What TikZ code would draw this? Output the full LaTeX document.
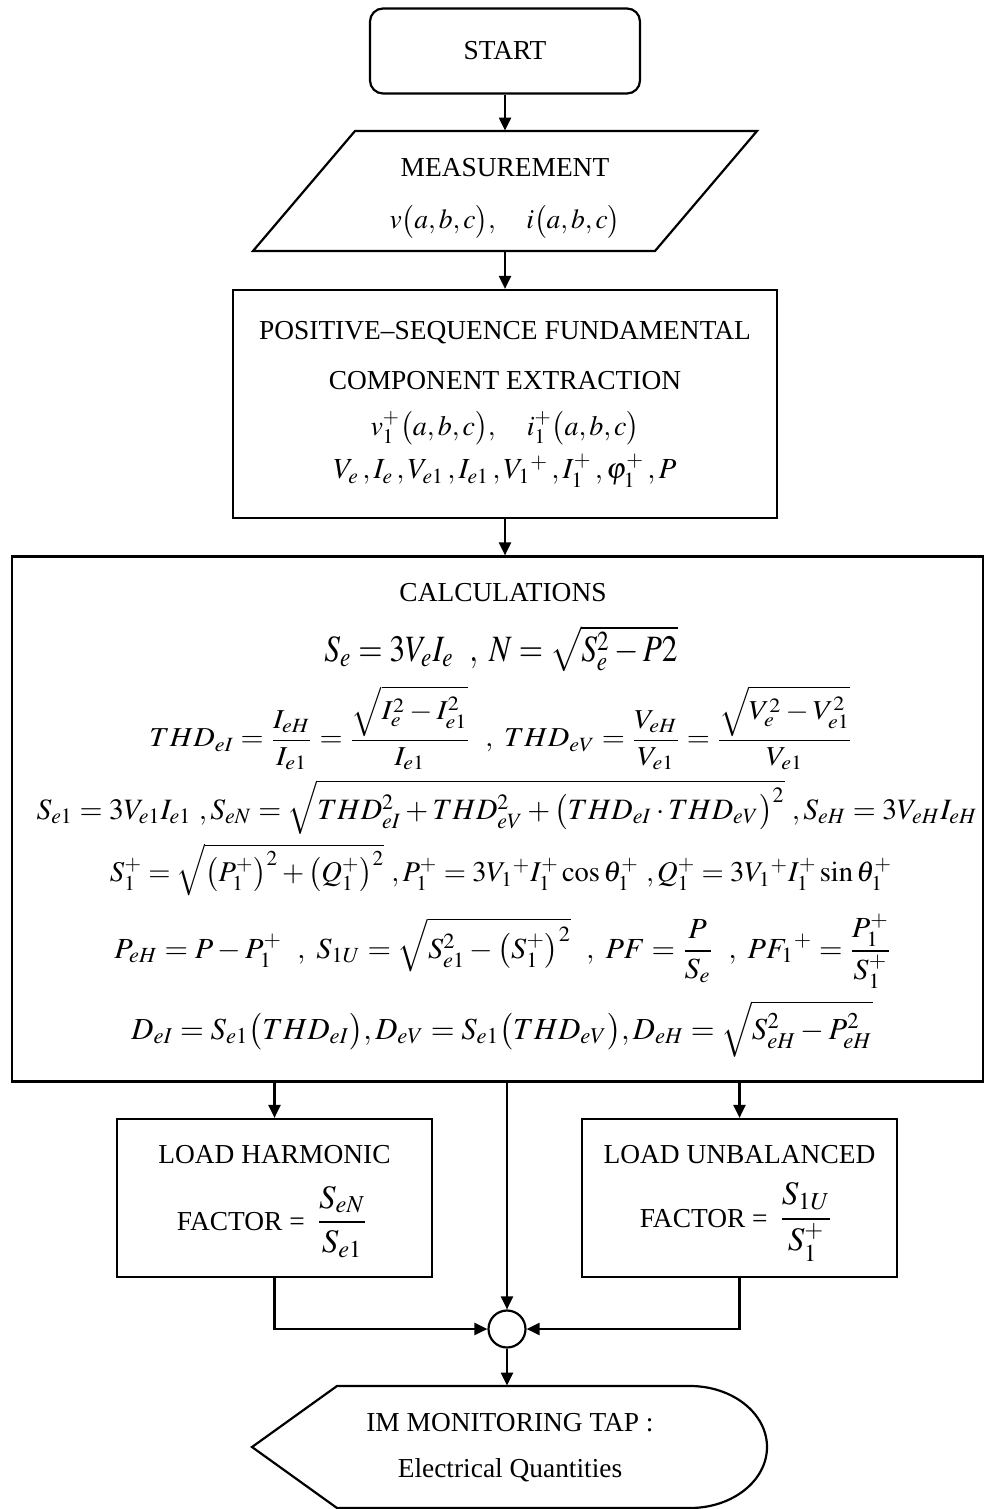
\documentclass[tikz,border=0pt]{standalone}
\usepackage{amsmath}
\usepackage{mathptmx}
\usepackage[no-math]{fontspec}
\setmainfont{Liberation Serif}
\usepackage{graphicx}
\usetikzlibrary{arrows.meta}
\tikzset{
  ln/.style={line width=1.1pt},
  arr/.style={line width=1.1pt,-{Triangle[length=6.5pt,width=6pt]}},
  box/.style={draw,line width=1.1pt,inner sep=0pt},
  ghost/.style={inner sep=0pt},
  txt/.style={inner sep=0pt,font=\fontsize{13.7}{16}\selectfont},
}
\begin{document}
\begin{tikzpicture}[x=0.5pt,y=-0.5pt]
\useasboundingbox (0,0) rectangle (985,1509);
% START
\node[box,rounded corners=6.5pt,minimum width=135pt,minimum height=42.5pt,txt] (start) at (505,51) {START};
% MEASUREMENT
\node[ghost,minimum width=252pt,minimum height=60pt] (meas) at (505,191) {};
\draw[ln,line join=miter] (253,251) -- (355,131) -- (757,131) -- (655,251) -- cycle;
\node[txt] (m1) at (505,168) {MEASUREMENT};
\node[txt] (m2) at (505,222) {\resizebox{115.5pt}{!}{$v\bigl(a,b,c\bigr),\quad i\bigl(a,b,c\bigr)$}};
% POSITIVE
\node[box,minimum width=272pt,minimum height=114pt] (pos) at (505,404) {};
\node[txt] (p1) at (505,333) {POSITIVE--SEQUENCE FUNDAMENTAL};
\node[txt] (p2) at (505,381) {COMPONENT EXTRACTION};
\node[txt] (p3) at (505,428) {\resizebox{134.5pt}{!}{$v_1^+\bigl(a,b,c\bigr),\quad i_1^+\bigl(a,b,c\bigr)$}};
\node[txt] (p4) at (505,471) {\resizebox{171.5pt}{!}{$V_e\,,I_e\,,V_{e1}\,,I_{e1}\,,V_1{}^+\,,I_1^+\,,\varphi_1^+\,,P$}};
% CALCULATIONS
\node[box,minimum width=485.5pt,minimum height=262.5pt] (calc) at (497.5,819) {};
\node[txt] (c0) at (503,593) {CALCULATIONS};
\node[txt] (c1) at (501,649) {\resizebox*{176.5pt}{23pt}{$S_e=3V_eI_e\ \ ,\ N=\sqrt{S_e^2-P2}$}};
\node[txt] (c2) at (501,728) {\resizebox*{351.5pt}{42pt}{$\displaystyle THD_{eI}=\frac{I_{eH}}{I_{e1}}=\frac{\sqrt{I_e^2-I_{e1}^2}}{I_{e1}}\ \ ,\ THD_{eV}=\frac{V_{eH}}{V_{e1}}=\frac{\sqrt{V_e^2-V_{e1}^2}}{V_{e1}}$}};
\node[txt] (c3) at (507,807) {\resizebox{470.5pt}{!}{$S_{e1}=3V_{e1}I_{e1}\ ,S_{eN}=\sqrt{THD_{eI}^2+THD_{eV}^2+\bigl(THD_{eI}\cdot THD_{eV}\bigr)^2}\ ,S_{eH}=3V_{eH}I_{eH}$}};
\node[txt] (c4) at (501,870) {\resizebox{391pt}{!}{$S_1^+=\sqrt{\bigl(P_1^+\bigr)^2+\bigl(Q_1^+\bigr)^2}\ ,P_1^+=3V_1{}^+I_1^+\cos\theta_1^+\ ,Q_1^+=3V_1{}^+I_1^+\sin\theta_1^+$}};
\node[txt] (c5) at (503,951) {\resizebox*{388.5pt}{37.5pt}{$\displaystyle P_{eH}=P-P_1^+\ \ ,\ S_{1U}=\sqrt{S_{e1}^2-\bigl(S_1^+\bigr)^2}\ \ ,\ PF=\frac{P}{S_e}\ \ ,\ PF_1{}^+=\frac{P_1^+}{S_1^+}$}};
\node[txt] (c6) at (502,1029) {\resizebox{370.5pt}{!}{$D_{eI}=S_{e1}\bigl(THD_{eI}\bigr),D_{eV}=S_{e1}\bigl(THD_{eV}\bigr),D_{eH}=\sqrt{S_{eH}^2-P_{eH}^2}$}};
% LOAD boxes
\node[box,minimum width=157.5pt,minimum height=79pt] (harm) at (274.5,1198) {};
\node[txt] (h1) at (274.5,1155) {LOAD HARMONIC};
\node[txt] (h2) at (272.5,1222) {FACTOR = \,\scalebox{1.2}{$\dfrac{S_{eN}}{S_{e1}}$}};
\node[box,minimum width=157.5pt,minimum height=79pt] (unb) at (739.5,1198) {};
\node[txt] (u1) at (739.5,1155) {LOAD UNBALANCED};
\node[txt] (u2) at (736.5,1222) {FACTOR = \,\scalebox{1.2}{$\dfrac{S_{1U}}{S_1^+}$}};
% junction
\node[draw,circle,line width=1.1pt,minimum size=18.5pt,inner sep=0pt] (join) at (507,1329) {};
% display
\node[ghost,minimum width=257.5pt,minimum height=61pt] (disp) at (509.5,1447) {};
\draw[ln,line join=miter] (252,1447) -- (337,1386) -- (690,1386)
   arc[start angle=90,end angle=-90,x radius=38.5pt,y radius=30.5pt] -- (337,1508) -- cycle;
\node[txt] (d1) at (510,1423) {IM MONITORING TAP :};
\node[txt] (d2) at (510,1470) {Electrical Quantities};
% connectors
\draw[arr] (start) -- (meas);
\draw[arr] (meas) -- (pos);
\draw[arr] (pos.south) -- (pos.south |- calc.north);
\draw[arr] (harm.north |- calc.south) -- (harm.north);
\draw[arr] (unb.north |- calc.south) -- (unb.north);
\draw[arr] (join.north |- calc.south) -- (join.north);
\draw[arr] (harm.south) |- (join.west);
\draw[arr] (unb.south) |- (join.east);
\draw[arr] (join.south) -- (join.south |- disp.north);
\end{tikzpicture}
\end{document}
